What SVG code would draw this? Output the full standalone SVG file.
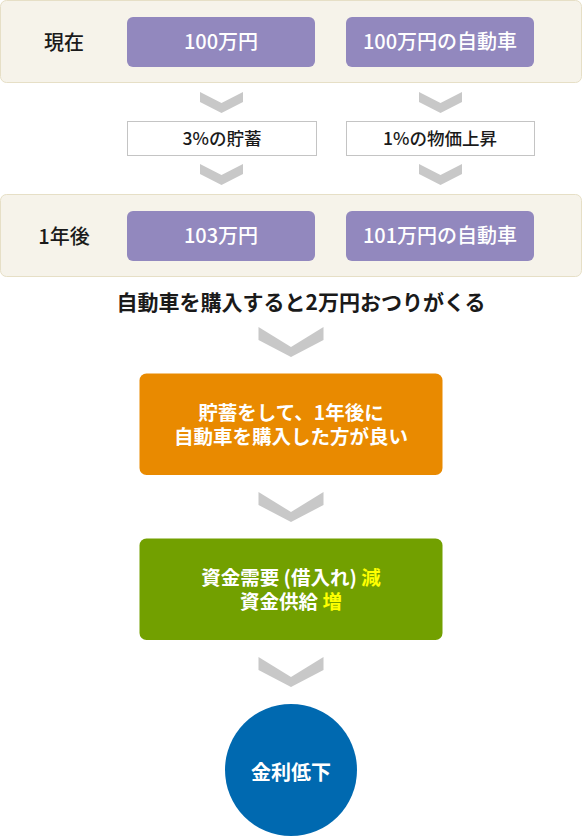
<svg xmlns="http://www.w3.org/2000/svg" width="582" height="836" viewBox="0 0 582 836">
<style>
text{font-family:"Noto Sans CJK JP","Noto Sans",sans-serif;text-anchor:middle}
.panel{fill:#f6f3ea;stroke:#e6dfc6;stroke-width:1}
.pbox{fill:#9288be}
.lbox{fill:#fff;stroke:#c4c4c4;stroke-width:1}
.chev{fill:#c8c8c8}
.w{fill:#fff;font-size:20px;font-weight:500}
.wb{fill:#fff;font-size:19.5px;font-weight:bold}
.k{fill:#1a1a1a;font-size:20px;font-weight:500}
.ks{fill:#1a1a1a;font-size:17.5px;font-weight:500}
.y{fill:#ffff00}
</style>
<defs>
<polygon id="sch" points="-21.5,0 0,11 21.5,0 21.5,10 0,21 -21.5,10"/>
<polygon id="bch" points="-32.5,0 0,20 32.5,0 32.5,13 0,30 -32.5,13"/>
</defs>
<g id="panel-now">
<rect class="panel" x="0.5" y="0.5" width="581" height="82" rx="6"/>
<text class="k" x="64" y="50">現在</text>
</g>
<g id="node-100man">
<rect class="pbox" x="127" y="17" width="188" height="50" rx="6"/>
<text class="w" x="221" y="49">100万円</text>
</g>
<g id="node-car100">
<rect class="pbox" x="346" y="17" width="188" height="50" rx="6"/>
<text class="w" x="440" y="49">100万円の自動車</text>
</g>
<g id="node-save">
<rect class="lbox" x="127.5" y="121.5" width="189" height="34"/>
<text class="ks" x="222" y="145">3%の貯蓄</text>
</g>
<g id="node-price">
<rect class="lbox" x="346.5" y="121.5" width="188" height="34"/>
<text class="ks" x="440" y="145">1%の物価上昇</text>
</g>
<g id="panel-later">
<rect class="panel" x="0.5" y="194.5" width="581" height="82" rx="6"/>
<text class="k" x="64" y="244">1年後</text>
</g>
<g id="node-103man">
<rect class="pbox" x="127" y="211" width="188" height="50" rx="6"/>
<text class="w" x="221" y="243">103万円</text>
</g>
<g id="node-car101">
<rect class="pbox" x="346" y="211" width="188" height="50" rx="6"/>
<text class="w" x="440" y="243">101万円の自動車</text>
</g>
<g id="node-change">
<text class="k" x="301" y="310" style="font-size:21px;font-weight:bold">自動車を購入すると2万円おつりがくる</text>
</g>
<g id="node-conclusion">
<rect x="139.5" y="373.5" width="303" height="101.5" rx="7" fill="#e98a00"/>
<text class="wb" x="291" y="420">貯蓄をして、1年後に</text>
<text class="wb" x="291" y="444">自動車を購入した方が良い</text>
</g>
<g id="node-funds">
<rect x="139.5" y="538.5" width="303" height="101.5" rx="7" fill="#72a000"/>
<text class="wb" x="291" y="585">資金需要 (借入れ) <tspan class="y">減</tspan></text>
<text class="wb" x="291" y="609">資金供給 <tspan class="y">増</tspan></text>
</g>
<g id="node-rate">
<circle cx="291" cy="770" r="66" fill="#0069b0"/>
<text class="wb" x="291" y="780" style="font-size:20px">金利低下</text>
</g>
<g id="connectors">
<use href="#sch" class="chev" x="221.5" y="92"/>
<use href="#sch" class="chev" x="440.5" y="92"/>
<use href="#sch" class="chev" x="221.5" y="164"/>
<use href="#sch" class="chev" x="440.5" y="164"/>
<use href="#bch" class="chev" x="291" y="327"/>
<use href="#bch" class="chev" x="291" y="492"/>
<use href="#bch" class="chev" x="291" y="657"/>
</g>
</svg>
